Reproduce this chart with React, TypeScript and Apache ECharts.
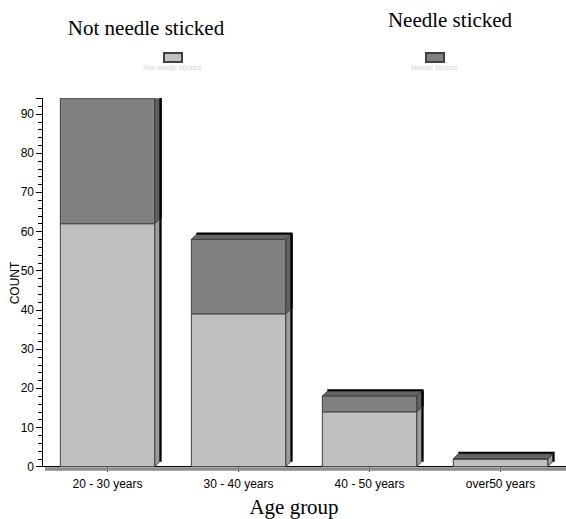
import React, { useEffect, useRef } from "react";
import * as echarts from "echarts";

const categories = ["20 - 30 years", "30 - 40 years", "40 - 50 years", "over50 years"];
const notNeedleSticked = [62, 39, 14, 2];
const needleSticked = [32, 19, 4, 0];
const seriesNames = ["Not needle sticked", "Needle sticked"];
const yTicks = [0, 10, 20, 30, 40, 50, 60, 70, 80, 90];

const FRONT = ["#c0c0c0", "#808080"];
const SIDE = ["#9c9c9c", "#606060"];
const TOPFACE = "#666666";
const EDGE = "#404040";

function makeRender(idx: number, isTop: boolean) {
  return (params: any, api: any) => {
    const i = api.value(0);
    const base = api.value(1);
    const top = api.value(2);
    const pTop = api.coord([i, top]);
    const pBase = api.coord([i, base]);
    const band = api.size([1, 0])[0];
    const w = band * 0.72;
    const d = 5;
    const L = pTop[0] - w / 2;
    const R = pTop[0] + w / 2;
    const T = pTop[1];
    const B = pBase[1];
    const children: any[] = [];
    children.push({
      type: "polygon",
      shape: { points: [[R, T], [R + d, T - d], [R + d, B - d], [R, B]] },
      style: { fill: SIDE[idx], stroke: EDGE, lineWidth: 1 },
    });
    if (B - T > 0.5) {
      children.push({
        type: "line",
        shape: { x1: R + d + 1, y1: T - d, x2: R + d + 1, y2: B - d },
        style: { stroke: "#000", lineWidth: 2 },
      });
    }
    if (isTop) {
      children.push({
        type: "polygon",
        shape: { points: [[L, T], [L + d, T - d], [R + d, T - d], [R, T]] },
        style: { fill: TOPFACE, stroke: EDGE, lineWidth: 1 },
      });
      children.push({
        type: "polyline",
        shape: { points: [[L + d, T - d - 1], [R + d + 1, T - d - 1], [R + d + 1, B - d]] },
        style: { stroke: "#000", lineWidth: 2, fill: "none" },
      });
    }
    children.push({
      type: "rect",
      shape: { x: L, y: T, width: w, height: B - T },
      style: { fill: FRONT[idx], stroke: EDGE, lineWidth: 1 },
    });
    return { type: "group", children };
  };
}

export default function App() {
  const ref = useRef<HTMLDivElement>(null);
  useEffect(() => {
    if (!ref.current) return;
    const chart = echarts.init(ref.current, undefined, { renderer: "svg" });
    const lightData = categories.map((_, i) => [i, 0, notNeedleSticked[i]]);
    const darkData = categories.map((_, i) => [
      i,
      notNeedleSticked[i],
      notNeedleSticked[i] + needleSticked[i],
    ]);
    const sans = "'Liberation Sans', Arial, sans-serif";
    const serif = "'Liberation Serif', 'Times New Roman', serif";
    chart.setOption({
      animation: false,
      backgroundColor: "#ffffff",
      grid: { left: 42, right: 0, top: 98.3, bottom: 52.3, containLabel: false, outerBoundsMode: "none" },
      legend: [
        {
          data: [seriesNames[0]],
          left: 163,
          top: 52,
          padding: 0,
          icon: "rect",
          itemWidth: 18,
          itemHeight: 9,
          formatter: () => "",
          selectedMode: false,
        },
        {
          data: [seriesNames[1]],
          left: 425,
          top: 52,
          padding: 0,
          icon: "rect",
          itemWidth: 18,
          itemHeight: 9,
          formatter: () => "",
          selectedMode: false,
        },
      ],
      xAxis: {
        type: "category",
        data: categories,
        axisLine: { show: true, lineStyle: { color: "#000", width: 1 } },
        axisTick: { show: true, alignWithLabel: true, length: 5, lineStyle: { color: "#000" } },
        axisLabel: { color: "#000", fontSize: 12, fontFamily: sans, margin: 11 },
        splitLine: { show: false },
      },
      yAxis: [
        {
          type: "value",
          min: 0,
          max: 94,
          interval: 10,
          axisLine: { show: true, lineStyle: { color: "#000", width: 1 } },
          axisTick: { show: true, length: 6, lineStyle: { color: "#000" } },
          axisLabel: {
            color: "#000",
            fontSize: 12,
            fontFamily: sans,
            margin: 8,
            formatter: (v: number) => (yTicks.indexOf(v) >= 0 ? String(v) : ""),
          },
          splitLine: { show: false },
        },
        {
          type: "value",
          min: 0,
          max: 94,
          interval: 2,
          position: "left",
          axisLine: { show: false },
          axisTick: { show: true, length: 4, lineStyle: { color: "#000" } },
          axisLabel: { show: false },
          splitLine: { show: false },
        },
      ],
      graphic: [
        {
          type: "rect",
          shape: { x: 45, y: 467.2, width: 521, height: 3.5 },
          style: { fill: "#8c8c8c" },
          z: 1,
        },
        {
          type: "text",
          x: 146,
          y: 28,
          style: { text: seriesNames[0], font: `21px ${serif}`, fill: "#000", align: "center", verticalAlign: "middle" },
        },
        {
          type: "text",
          x: 450,
          y: 20,
          style: { text: seriesNames[1], font: `21px ${serif}`, fill: "#000", align: "center", verticalAlign: "middle" },
        },
        {
          type: "text",
          x: 172,
          y: 67,
          style: { text: seriesNames[0], font: `7px ${sans}`, fill: "#d4d4d4", align: "center", verticalAlign: "middle" },
        },
        {
          type: "text",
          x: 434,
          y: 67,
          style: { text: seriesNames[1], font: `7px ${sans}`, fill: "#d4d4d4", align: "center", verticalAlign: "middle" },
        },
        {
          type: "text",
          x: 15,
          y: 283,
          rotation: Math.PI / 2,
          style: { text: "COUNT", font: `12px ${sans}`, fill: "#000", align: "center", verticalAlign: "middle" },
        },
        {
          type: "text",
          x: 294,
          y: 507,
          style: { text: "Age group", font: `21px ${serif}`, fill: "#000", align: "center", verticalAlign: "middle" },
        },
      ],
      series: [
        {
          name: seriesNames[0],
          type: "custom",
          renderItem: makeRender(0, false),
          encode: { x: 0, y: [1, 2] },
          itemStyle: { color: FRONT[0], borderColor: EDGE, borderWidth: 1 },
          data: lightData,
          clip: true,
          z: 3,
        },
        {
          name: seriesNames[1],
          type: "custom",
          renderItem: makeRender(1, true),
          encode: { x: 0, y: [1, 2] },
          itemStyle: { color: FRONT[1], borderColor: EDGE, borderWidth: 1 },
          data: darkData,
          clip: true,
          z: 3,
        },
      ],
    });
    return () => chart.dispose();
  }, []);
  return <div ref={ref} style={{ width: 566, height: 519, position: "absolute", left: 0, top: 0 }} />;
}
